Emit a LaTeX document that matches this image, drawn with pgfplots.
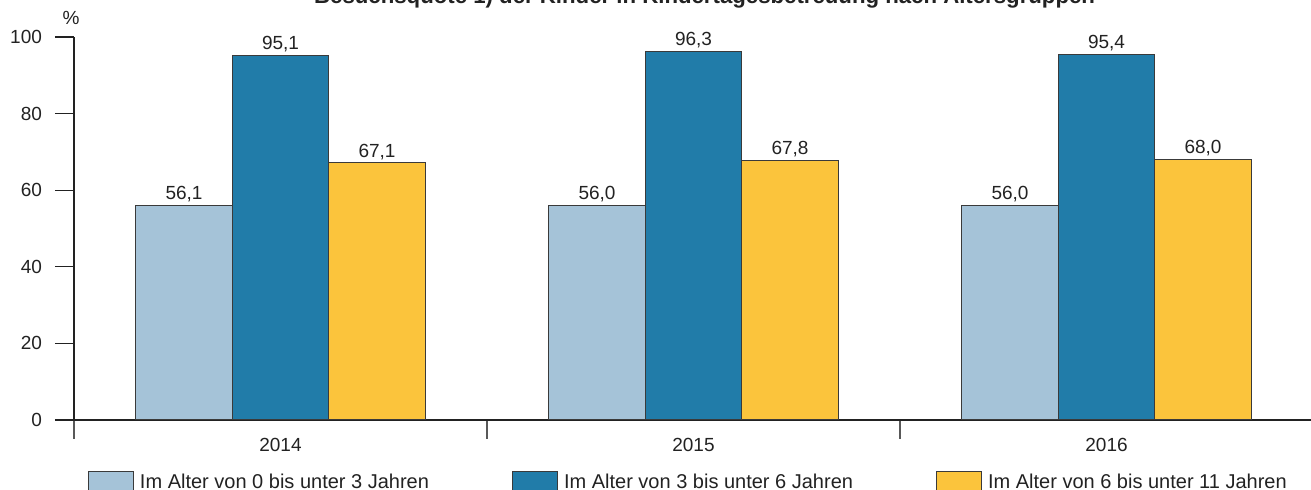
\documentclass[border=0pt]{standalone}
\usepackage{pgfplots}
\pgfplotsset{compat=1.18}
\usepackage{fontspec}
\setmainfont{Liberation Sans}
\definecolor{cLight}{HTML}{A5C3D8}
\definecolor{cDark}{HTML}{217CA9}
\definecolor{cYellow}{HTML}{FBC43C}
\definecolor{cText}{HTML}{222222}
\definecolor{cEdge}{HTML}{3A3A3A}
\begin{document}
\begin{tikzpicture}
\useasboundingbox (0pt,0pt) rectangle (655.5pt,245pt);
\clip (0pt,0pt) rectangle (655.5pt,245pt);
\node[anchor=base, font=\bfseries\fontsize{11.1}{13}\selectfont, text=cText] at (352.3pt,243.3pt) {Besuchsquote 1) der Kinder in Kindertagesbetreuung nach Altersgruppen};
\node[anchor=base, font=\fontsize{9.5}{11}\selectfont, text=cText] at (35.5pt,232.8pt) {\%};
\begin{axis}[
  at={(37pt,35pt)}, anchor=south west,
  scale only axis, width=619.5pt, height=191.5pt,
  xmin=-0.5, xmax=2.5, ymin=0, ymax=100,
  axis x line=bottom, axis y line=left,
  axis line style={-, draw=cText, line width=0.6pt},
  ytick={0,20,40,60,80,100},
  xtick={-0.5,0.5,1.5,2.5},
  x tick label as interval,
  xticklabels={2014,2015,2016},
  tick align=outside,
  major tick length=9.5pt,
  x tick style={draw=gray!70!black, line width=0.6pt},
  y tick style={draw=cText, line width=0.6pt},
  /pgf/number format/assume math mode=true,
  tick label style={font=\fontsize{9.5}{11}\selectfont, text=cText},
  yticklabel style={xshift=-3pt},
  xticklabel style={yshift=4pt},
  ybar=0pt, bar width=48.25pt,
  nodes near coords={\pgfmathprintnumber[fixed,fixed zerofill,precision=1,use comma,assume math mode=true]{\pgfplotspointmeta}},
  nodes near coords style={font=\fontsize{9.5}{11}\selectfont, text=cText, inner sep=1.5pt},
  legend columns=3,
  legend style={at={(7pt,-25pt)}, anchor=north west, draw=none, fill=none,
    font=\fontsize{10}{12}\selectfont, text=cText,
    /tikz/every even column/.append style={column sep=39.5pt},
    /tikz/every odd column/.append style={column sep=1pt},
    inner sep=0pt, outer sep=0pt},
  legend image code/.code={\draw[#1, draw=cEdge, line width=0.5pt] (0pt,-8.5pt) rectangle (22.5pt,5.5pt);},
  clip=false,
]
\addplot[fill=cLight, draw=cEdge, line width=0.5pt] coordinates {(0,56.1) (1,56.0) (2,56.0)};
\addplot[fill=cDark, draw=cEdge, line width=0.5pt] coordinates {(0,95.1) (1,96.3) (2,95.4)};
\addplot[fill=cYellow, draw=cEdge, line width=0.5pt] coordinates {(0,67.1) (1,67.8) (2,68.0)};
\legend{Im Alter von 0 bis unter 3 Jahren, Im Alter von 3 bis unter 6 Jahren, Im Alter von 6 bis unter 11 Jahren}
\end{axis}
\end{tikzpicture}
\end{document}
